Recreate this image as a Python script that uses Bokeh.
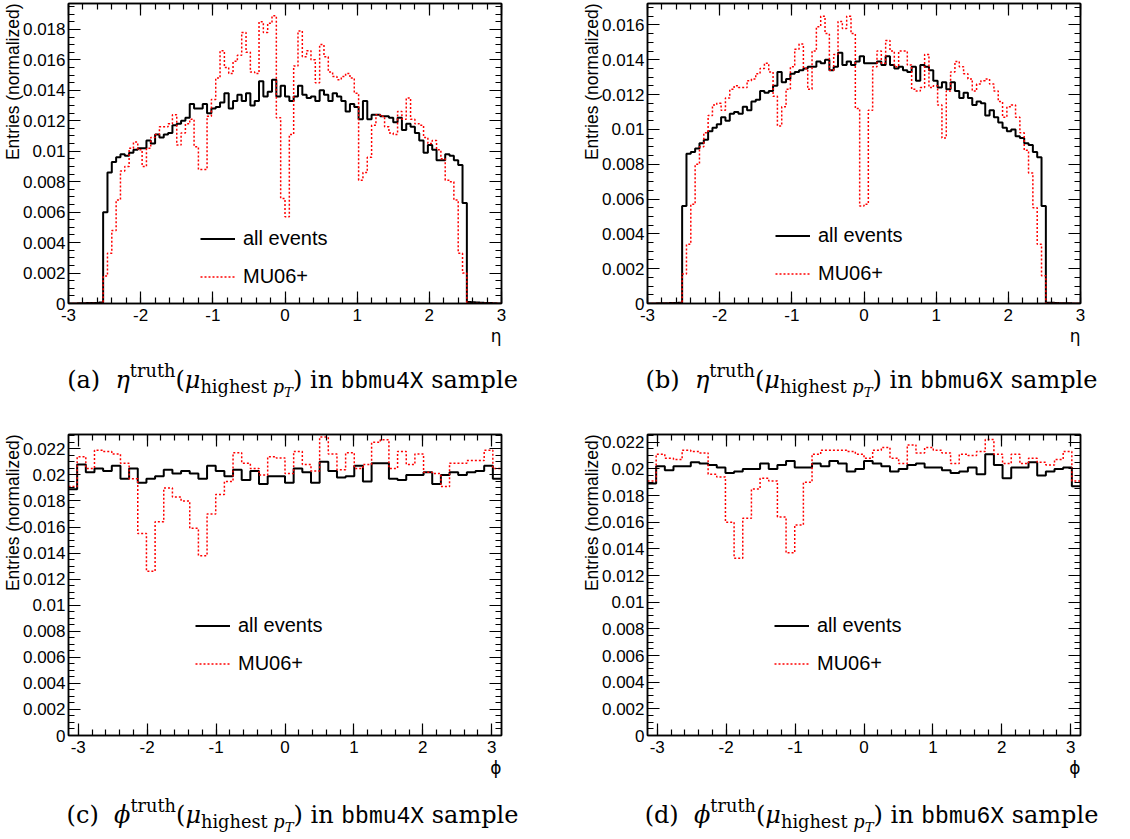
import numpy as np
from bokeh.plotting import figure
from bokeh.models import (FixedTicker, LinearAxis, Title, Legend, LegendItem,
                          CustomJSTickFormatter, Div)
from bokeh.layouts import column, row
from bokeh.embed import file_html
from bokeh.resources import INLINE

# ---------------- data ----------------
ETA_NBINS = 100
ETA_LO, ETA_HI = -3.0, 3.0
PHI_NBINS = 50
PHI_LO, PHI_HI = -np.pi, np.pi

eta_bbmu4X_all = [
    0.0, 0.0, 0.00002, 0.00002, 0.00003, 0.00003, 0.00004, 0.00006,
    0.0060, 0.0086, 0.0093, 0.0096, 0.0098, 0.0097, 0.0099, 0.0101, 0.0102, 0.0102,
    0.0107, 0.0105, 0.0111, 0.0109, 0.0111, 0.0112, 0.0117, 0.0118, 0.0120, 0.0122,
    0.0131, 0.0128, 0.0128, 0.0131, 0.0125, 0.0128, 0.0129, 0.0132, 0.0138, 0.0128,
    0.0133, 0.0137, 0.0133, 0.0138, 0.0130, 0.0133, 0.0146, 0.0136, 0.0139, 0.0147,
    0.0136, 0.0143, 0.0136, 0.0133, 0.0136, 0.0143, 0.0137, 0.0135, 0.0136, 0.0133,
    0.0140, 0.0137, 0.0133, 0.0138, 0.0136, 0.0133, 0.0126, 0.0131, 0.0129, 0.0121,
    0.0133, 0.0121, 0.0124, 0.0124, 0.0123, 0.0123, 0.0122, 0.0119, 0.0122, 0.0114,
    0.0118, 0.0116, 0.0112, 0.0107, 0.0099, 0.0104, 0.0101, 0.0094, 0.0094, 0.0098,
    0.0097, 0.0094, 0.0091, 0.0066,
    0.0001, 0.00008, 0.00006, 0.00005, 0.00004, 0.00003, 0.00002, 0.0]

eta_bbmu4X_mu06 = [
    0.0, 0.0, 0.0, 0.0, 0.0, 0.0, 0.0, 0.0,
    0.0018, 0.0033, 0.0048, 0.0068, 0.0087, 0.0090, 0.0102, 0.0106, 0.0101, 0.0090,
    0.0102, 0.0109, 0.0111, 0.0116, 0.0116, 0.0118, 0.0124, 0.0104, 0.0112, 0.0118,
    0.0121, 0.0103, 0.0088, 0.0088, 0.0123, 0.0134, 0.0148, 0.0166, 0.0155, 0.0151,
    0.0159, 0.0163, 0.0178, 0.0165, 0.0152, 0.0151, 0.0185, 0.0178, 0.0184, 0.0189,
    0.0122, 0.0069, 0.0057, 0.0111, 0.0156, 0.0179, 0.0162, 0.0166, 0.0160, 0.0145,
    0.0170, 0.0162, 0.0152, 0.0149, 0.0147, 0.0149, 0.0151, 0.0148, 0.0138, 0.0081,
    0.0086, 0.0096, 0.0117, 0.0124, 0.0123, 0.0116, 0.0112, 0.0111, 0.0126, 0.0121,
    0.0135, 0.0121, 0.0118, 0.0117, 0.0109, 0.0105, 0.0107, 0.0101, 0.0095, 0.0081,
    0.0080, 0.0068, 0.0033, 0.0020,
    0.0, 0.0, 0.0, 0.0, 0.0, 0.0, 0.0, 0.0]

eta_bbmu6X_all = [
    0.0, 0.0, 0.00001, 0.00002, 0.00002, 0.00003, 0.00003, 0.00005,
    0.0056, 0.0086, 0.0087, 0.0089, 0.0092, 0.0094, 0.0099, 0.0101, 0.0103, 0.0107,
    0.0105, 0.0109, 0.0110, 0.0109, 0.0113, 0.0111, 0.0116, 0.0117, 0.0122, 0.0121,
    0.0122, 0.0125, 0.0133, 0.0127, 0.0129, 0.0132, 0.0133, 0.0134, 0.0135, 0.0136,
    0.0136, 0.0139, 0.0138, 0.0140, 0.0134, 0.0136, 0.0144, 0.0137, 0.0139, 0.0137,
    0.0139, 0.0142, 0.0138, 0.0138, 0.0138, 0.0139, 0.0137, 0.0142, 0.0137, 0.0135,
    0.0136, 0.0134, 0.0133, 0.0136, 0.0128, 0.0137, 0.0136, 0.0134, 0.0128, 0.0124,
    0.0127, 0.0123, 0.0127, 0.0122, 0.0118, 0.0121, 0.0118, 0.0114, 0.0116, 0.0115,
    0.0108, 0.0111, 0.0107, 0.0104, 0.0101, 0.0099, 0.0100, 0.0096, 0.0095, 0.0092,
    0.0091, 0.0087, 0.0084, 0.0056,
    0.00005, 0.00004, 0.00003, 0.00002, 0.00002, 0.00001, 0.0, 0.0]

eta_bbmu6X_mu06 = [
    0.0, 0.0, 0.0, 0.0, 0.0, 0.0, 0.0, 0.0,
    0.0017, 0.0034, 0.0057, 0.0080, 0.0090, 0.0098, 0.0108, 0.0114, 0.0115, 0.0111,
    0.0118, 0.0123, 0.0125, 0.0124, 0.0124, 0.0128, 0.0129, 0.0132, 0.0135, 0.0138,
    0.0133, 0.0119, 0.0102, 0.0113, 0.0123, 0.0136, 0.0146, 0.0149, 0.0135, 0.0123,
    0.0145, 0.0159, 0.0165, 0.0155, 0.0134, 0.0143, 0.0162, 0.0158, 0.0165, 0.0155,
    0.0112, 0.0056, 0.0057, 0.0111, 0.0136, 0.0145, 0.0138, 0.0151, 0.0145, 0.0136,
    0.0145, 0.0145, 0.0137, 0.0123, 0.0122, 0.0124, 0.0143, 0.0124, 0.0125, 0.0114,
    0.0095, 0.0122, 0.0133, 0.0139, 0.0136, 0.0132, 0.0129, 0.0122, 0.0126, 0.0128,
    0.0129, 0.0126, 0.0122, 0.0116, 0.0107, 0.0113, 0.0114, 0.0107, 0.0098, 0.0088,
    0.0075, 0.0055, 0.0034, 0.0016,
    0.0, 0.0, 0.0, 0.0, 0.0, 0.0, 0.0, 0.0]

phi_bbmu4X_all = [
    0.0189, 0.0208, 0.0202, 0.0205, 0.0203, 0.0207, 0.0197, 0.0205, 0.0194, 0.0197,
    0.0199, 0.0204, 0.0201, 0.0203, 0.0201, 0.0197, 0.0207, 0.0203, 0.0199, 0.0204,
    0.0196, 0.0203, 0.0193, 0.0199, 0.0199, 0.0194, 0.0205, 0.0202, 0.0194, 0.0210,
    0.0203, 0.0198, 0.0199, 0.0207, 0.0195, 0.0209, 0.0209, 0.0197, 0.0196, 0.0200,
    0.0200, 0.0202, 0.0193, 0.0200, 0.0202, 0.0200, 0.0202, 0.0203, 0.0207, 0.0197]

phi_bbmu4X_mu06 = [
    0.0191, 0.0214, 0.0205, 0.0219, 0.0218, 0.0216, 0.0209, 0.0197, 0.0155, 0.0126,
    0.0164, 0.0190, 0.0183, 0.0180, 0.0159, 0.0138, 0.0170, 0.0185, 0.0195, 0.0217,
    0.0209, 0.0205, 0.0200, 0.0214, 0.0213, 0.0201, 0.0218, 0.0208, 0.0203, 0.0229,
    0.0216, 0.0204, 0.0217, 0.0205, 0.0208, 0.0225, 0.0227, 0.0205, 0.0218, 0.0208,
    0.0216, 0.0202, 0.0201, 0.0191, 0.0209, 0.0209, 0.0211, 0.0211, 0.0219, 0.0205]

phi_bbmu6X_all = [
    0.0189, 0.0202, 0.0199, 0.0202, 0.0202, 0.0205, 0.0204, 0.0203, 0.0201, 0.0197,
    0.0198, 0.0200, 0.0200, 0.0204, 0.0200, 0.0203, 0.0206, 0.0201, 0.0201, 0.0204,
    0.0202, 0.0206, 0.0204, 0.0198, 0.0200, 0.0206, 0.0204, 0.0202, 0.0198, 0.0200,
    0.0203, 0.0204, 0.0201, 0.0201, 0.0199, 0.0197, 0.0198, 0.0201, 0.0196, 0.0211,
    0.0203, 0.0193, 0.0201, 0.0201, 0.0205, 0.0195, 0.0198, 0.0200, 0.0201, 0.0187]

phi_bbmu6X_mu06 = [
    0.0191, 0.0211, 0.0208, 0.0207, 0.0214, 0.0213, 0.0212, 0.0196, 0.0194, 0.0160,
    0.0133, 0.0163, 0.0185, 0.0193, 0.0191, 0.0164, 0.0137, 0.0158, 0.0190, 0.0211,
    0.0214, 0.0214, 0.0214, 0.0213, 0.0211, 0.0208, 0.0214, 0.0216, 0.0208, 0.0204,
    0.0218, 0.0212, 0.0216, 0.0214, 0.0212, 0.0204, 0.0211, 0.0210, 0.0213, 0.0222,
    0.0211, 0.0204, 0.0211, 0.0204, 0.0208, 0.0205, 0.0203, 0.0207, 0.0213, 0.0191]

legend_labels = ["all events", "MU06+"]
y_title = "Entries (normalized)"
captions = [
    ("a", "η", "bbmu4X"),
    ("b", "η", "bbmu6X"),
    ("c", "ϕ", "bbmu4X"),
    ("d", "ϕ", "bbmu6X"),
]

SANS = "Liberation Sans"


def style_axis(ax, labels=True):
    ax.axis_line_color = "black"
    ax.axis_line_width = 1.5
    ax.major_tick_in = 12
    ax.major_tick_out = 0
    ax.minor_tick_in = 6
    ax.minor_tick_out = 0
    ax.major_tick_line_color = "black"
    ax.minor_tick_line_color = "black"
    ax.major_tick_line_width = 1.2
    ax.minor_tick_line_width = 1.2
    if labels:
        ax.major_label_text_font = SANS
        ax.major_label_text_font_size = "17px"
        ax.major_label_text_color = "black"
    else:
        ax.formatter = CustomJSTickFormatter(code="return '';")
        ax.major_label_text_font_size = "0px"
        ax.major_label_standoff = 0


def make_panel(lo, hi, vals_all, vals_mu, y_max, x_title, height, ml, mr, mt, mb,
               leg_x, leg_y):
    n = len(vals_all)
    edges = np.linspace(lo, hi, n + 1)
    p = figure(width=565, height=height, x_range=(lo, hi), y_range=(0, y_max),
               output_backend="svg", toolbar_location=None, title=None,
               min_border_left=ml, min_border_right=mr,
               min_border_top=mt, min_border_bottom=mb)
    p.background_fill_color = "white"
    p.border_fill_color = "white"
    p.outline_line_color = "black"
    p.outline_line_width = 1.5
    p.xgrid.visible = False
    p.ygrid.visible = False

    xt = FixedTicker(ticks=list(np.arange(-3, 3.01, 1.0)),
                     minor_ticks=list(np.round(np.arange(-3.2, 3.21, 0.2), 3)))
    yt = FixedTicker(ticks=list(np.round(np.arange(0, y_max + 1e-9, 0.002), 4)),
                     minor_ticks=list(np.round(np.arange(0, y_max + 1e-9, 0.0005), 5)))

    p.xaxis.ticker = xt
    p.yaxis.ticker = yt
    p.xaxis.formatter = CustomJSTickFormatter(code="return tick.toFixed(0);")
    p.yaxis.formatter = CustomJSTickFormatter(
        code="return tick.toFixed(3).replace(/\\.?0+$/, '');")
    p.xaxis.major_label_standoff = 5
    p.yaxis.major_label_standoff = 3
    style_axis(p.xaxis[0])
    style_axis(p.yaxis[0])

    top = LinearAxis(ticker=xt)
    right = LinearAxis(ticker=yt)
    style_axis(top, labels=False)
    style_axis(right, labels=False)
    p.add_layout(top, "above")
    p.add_layout(right, "right")

    ys_all = list(vals_all) + [vals_all[-1]]
    ys_mu = list(vals_mu) + [vals_mu[-1]]
    r_all = p.step(x=edges, y=ys_all, mode="after", line_color="black", line_width=2)
    r_mu = p.step(x=edges, y=ys_mu, mode="after", line_color="#ff0000",
                  line_width=1.5, line_dash="2 2")

    legend = Legend(items=[LegendItem(label=legend_labels[0], renderers=[r_all]),
                           LegendItem(label=legend_labels[1], renderers=[r_mu])],
                    location=(leg_x, leg_y), border_line_color=None,
                    background_fill_alpha=0, padding=0, margin=0, spacing=9,
                    glyph_width=35, glyph_height=29, label_height=29,
                    label_standoff=8, label_text_font=SANS,
                    label_text_font_size="20px", label_text_color="black")
    p.add_layout(legend)

    p.add_layout(Title(text=y_title, align="right", text_font=SANS,
                       text_font_size="17.5px", text_font_style="normal",
                       text_color="black", standoff=-6, offset=0), "left")
    p.add_layout(Title(text=x_title, align="right", text_font="DejaVu Sans",
                       text_font_size="17px", text_font_style="normal",
                       text_color="black", standoff=0, offset=0), "below")
    return p


def caption(letter, var, sample, height, pad_top, pad_left):
    html = (
        f'<div style="width:565px;height:{height}px;box-sizing:border-box;'
        f'padding-left:{pad_left}px;padding-top:{pad_top}px;text-align:center;'
        "font-family:'DejaVu Serif',serif;font-size:24px;line-height:24px;"
        'color:#000;white-space:nowrap;">'
        f'({letter})&nbsp; <i>{var}</i>'
        '<span style="font-size:74%;position:relative;top:-0.6em;">truth</span>'
        '(<i>μ</i><span style="font-size:74%;position:relative;top:0.3em;">highest '
        '<i>p</i><span style="font-size:75%;position:relative;top:0.25em;"><i>T</i></span>'
        '</span>) in '
        f"<span style=\"font-family:'Liberation Mono',monospace;font-size:23px;\">{sample}</span> sample"
        '</div>'
    )
    return Div(text=html, width=565, height=height, margin=(0, 0, 0, 0))


pa = make_panel(ETA_LO, ETA_HI, eta_bbmu4X_all, eta_bbmu4X_mu06, 0.0197, "η",
                350, 68, 64, 3, 47, 132, 12)
pb = make_panel(ETA_LO, ETA_HI, eta_bbmu6X_all, eta_bbmu6X_mu06, 0.01723, "η",
                350, 82, 50, 3, 47, 128, 15)
pc = make_panel(PHI_LO, PHI_HI, phi_bbmu4X_all, phi_bbmu4X_mu06, 0.0231, "ϕ",
                360, 68, 64, 14, 45, 127, 57)
pd = make_panel(PHI_LO, PHI_HI, phi_bbmu6X_all, phi_bbmu6X_mu06, 0.02258, "ϕ",
                360, 82, 50, 14, 45, 127, 57)

ca = caption(*captions[0], 70, 18, 20)
cb = caption(*captions[1], 70, 18, 48)
cc = caption(*captions[2], 59, 23, 20)
cd = caption(*captions[3], 59, 23, 48)

layout = column(row(pa, pb), row(ca, cb), row(pc, pd), row(cc, cd))

with open("out.html", "w") as f:
    f.write(file_html(layout, INLINE))
